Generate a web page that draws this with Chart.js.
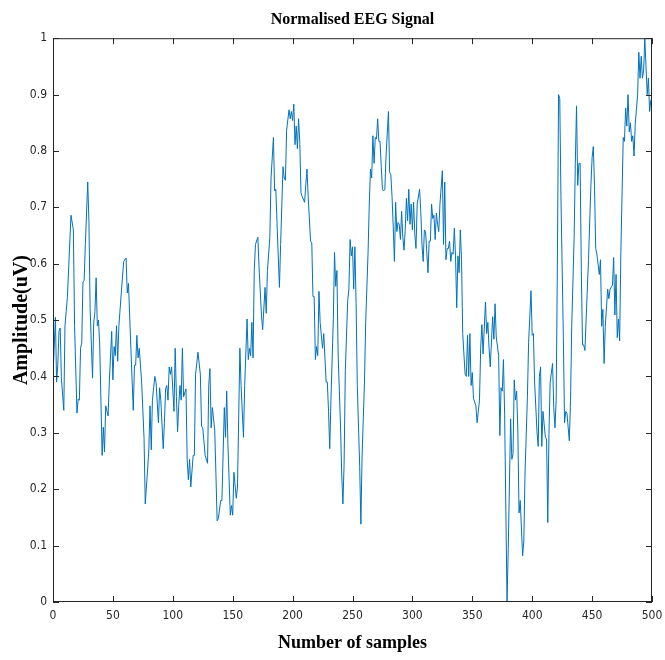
<!DOCTYPE html>
<html>
<head>
<meta charset="utf-8">
<script src="https://cdn.jsdelivr.net/npm/chart.js@4.4.1/dist/chart.umd.min.js"></script>
<style>
  html,body{margin:0;padding:0;background:#fff;}
  canvas{display:block;}
</style>
</head>
<body>
<canvas id="eegChart" width="665" height="660"></canvas>
<script>
// sample index (x) and normalised amplitude (y)
const sampleIdx = [
  0,2,3,4,5,6,7,9,10,11,12,15,17,18,20,21,22,23,24,25,26,27,29,30,31,33,34,35,36,37,38,39,41,42,43,44,46,47,49,
  50,51,52,53,54,55,57,59,61,62,63,65,67,68,69,70,71,72,74,76,77,79,80,81,82,83,84,85,86,88,89,90,92,93,94,95,96,97,98,99,
  101,102,103,104,105,106,107,108,109,111,112,113,114,115,117,118,119,121,123,124,125,127,129,130,131,132,133,135,136,137,138,140,141,143,144,145,146,148,149,
  150,151,153,154,156,157,159,160,162,163,164,165,166,167,168,169,171,172,174,175,177,178,179,181,182,184,185,186,187,189,190,192,193,194,195,197,198,199,
  200,201,202,203,204,205,206,207,208,210,211,212,213,215,216,217,218,219,220,221,222,223,225,226,228,229,230,231,232,234,235,236,237,238,240,241,242,243,244,246,247,248,249,
  250,251,252,253,254,256,257,258,260,261,263,264,265,266,267,268,269,270,271,272,273,274,275,276,277,278,280,281,282,283,284,285,286,287,288,289,290,291,292,293,294,295,296,297,298,299,
  300,301,302,303,304,306,307,308,309,310,311,313,314,315,316,317,318,319,320,321,322,323,325,326,327,328,329,330,331,332,333,334,335,336,337,338,339,340,341,342,344,345,346,347,348,349,
  350,351,353,354,356,357,358,359,361,362,363,364,365,367,368,369,370,372,373,374,375,376,377,378,379,380,382,383,384,385,386,387,388,389,390,392,393,394,396,397,399,
  400,401,402,404,405,406,407,408,409,411,412,413,414,415,417,418,419,420,421,422,423,424,426,427,428,429,431,432,433,435,436,437,438,439,440,441,442,443,444,446,447,449,
  450,451,452,453,454,456,457,458,459,460,461,463,464,465,467,468,469,470,471,472,473,474,476,477,478,479,480,481,482,483,484,485,486,488,489,490,491,492,493,494,496,497,498,499,500
];
const amplitude = [
  0.40,0.505,0.39,0.42,0.48,0.486,0.397,0.34,0.49,0.515,0.54,0.686,0.66,0.49,0.335,0.36,0.358,0.45,0.46,0.568,0.57,0.634,0.745,0.673,0.52,0.397,0.496,0.515,0.575,0.49,0.50,0.456,0.26,0.31,0.266,0.348,0.33,0.39,0.48,
  0.394,0.453,0.437,0.49,0.427,0.49,0.548,0.604,0.61,0.548,0.565,0.45,0.34,0.42,0.42,0.473,0.433,0.45,0.39,0.29,0.174,0.236,0.27,0.348,0.27,0.358,0.38,0.40,0.39,0.318,0.38,0.358,0.272,0.318,0.378,0.384,0.358,0.417,0.404,0.417,
  0.338,0.45,0.364,0.302,0.351,0.384,0.358,0.45,0.364,0.378,0.253,0.217,0.253,0.204,0.26,0.26,0.404,0.443,0.404,0.312,0.309,0.26,0.246,0.384,0.414,0.309,0.345,0.305,0.227,0.144,0.148,0.18,0.18,0.345,0.292,0.374,0.279,0.154,0.171,
  0.154,0.23,0.184,0.204,0.45,0.384,0.292,0.384,0.502,0.43,0.45,0.437,0.496,0.433,0.588,0.634,0.647,0.594,0.509,0.483,0.558,0.512,0.588,0.647,0.752,0.824,0.729,0.732,0.673,0.558,0.634,0.772,0.752,0.748,0.837,0.873,0.857,0.87,
  0.854,0.883,0.811,0.844,0.804,0.857,0.815,0.726,0.719,0.709,0.739,0.768,0.719,0.64,0.637,0.542,0.542,0.43,0.453,0.437,0.551,0.496,0.45,0.476,0.39,0.39,0.338,0.272,0.358,0.502,0.62,0.56,0.588,0.44,0.312,0.227,0.174,0.246,0.41,0.535,0.555,0.643,0.614,
  0.63,0.555,0.63,0.529,0.384,0.24,0.138,0.259,0.39,0.496,0.62,0.706,0.768,0.752,0.827,0.778,0.824,0.821,0.857,0.817,0.817,0.772,0.732,0.729,0.732,0.791,0.87,0.762,0.758,0.719,0.666,0.604,0.709,0.657,0.673,0.67,0.643,0.693,0.647,0.624,0.66,0.716,0.676,0.732,0.67,0.706,
  0.66,0.709,0.653,0.627,0.706,0.732,0.693,0.634,0.604,0.66,0.657,0.584,0.64,0.64,0.706,0.68,0.686,0.643,0.69,0.67,0.657,0.706,0.765,0.634,0.745,0.607,0.627,0.627,0.64,0.604,0.62,0.617,0.663,0.614,0.522,0.614,0.584,0.66,0.607,0.476,0.404,0.40,0.473,0.40,0.476,0.384,
  0.407,0.361,0.348,0.318,0.358,0.45,0.492,0.44,0.532,0.476,0.496,0.45,0.417,0.506,0.466,0.529,0.47,0.437,0.295,0.38,0.374,0.43,0.332,0.161,0.0,0.095,0.325,0.253,0.263,0.394,0.358,0.374,0.305,0.158,0.18,0.082,0.108,0.227,0.364,0.46,0.552,
  0.473,0.476,0.39,0.302,0.276,0.40,0.417,0.276,0.338,0.292,0.289,0.141,0.30,0.39,0.423,0.345,0.309,0.358,0.594,0.90,0.893,0.719,0.469,0.318,0.338,0.335,0.286,0.358,0.489,0.647,0.778,0.88,0.739,0.778,0.778,0.588,0.456,0.456,0.446,0.555,0.607,0.739,
  0.788,0.808,0.739,0.627,0.617,0.581,0.607,0.489,0.519,0.423,0.489,0.555,0.538,0.555,0.562,0.611,0.509,0.581,0.469,0.502,0.463,0.62,0.824,0.817,0.876,0.844,0.90,0.834,0.85,0.817,0.827,0.791,0.847,0.90,0.975,0.929,0.968,0.929,0.942,1.0,0.90,0.929,0.87,0.89,0.89
];
const xTicks = [0,50,100,150,200,250,300,350,400,450,500];
const yTicks = [0,0.1,0.2,0.3,0.4,0.5,0.6,0.7,0.8,0.9,1];
const yTickLabels = ["0","0.1","0.2","0.3","0.4","0.5","0.6","0.7","0.8","0.9","1"];

const AXIS = "#262626";
const LINE = "#0072BD";
const tickFont = {family:"'Liberation Sans Narrow','Arial Narrow','DejaVu Sans Condensed',sans-serif", size:12};
const serifBold = size => ({family:"'Liberation Serif','Times New Roman',serif", size, weight:"bold"});

// matlab-style box: frame on all four sides with inward ticks
const boxPlugin = {
  id:"box",
  afterDraw(chart){
    const {ctx, chartArea:a, scales:{x, y}} = chart;
    const L = 6;
    ctx.save();
    ctx.strokeStyle = AXIS; ctx.lineWidth = 1;
    ctx.strokeRect(a.left + .5, a.top + .5, a.right - a.left - 1, a.bottom - a.top - 1);
    ctx.beginPath();
    xTicks.forEach(v => {
      const px = Math.round(x.getPixelForValue(v)) + .5;
      ctx.moveTo(px, a.bottom); ctx.lineTo(px, a.bottom - L);
      ctx.moveTo(px, a.top); ctx.lineTo(px, a.top + L);
    });
    yTicks.forEach(v => {
      const py = Math.round(y.getPixelForValue(v)) + .5;
      ctx.moveTo(a.left, py); ctx.lineTo(a.left + L, py);
      ctx.moveTo(a.right, py); ctx.lineTo(a.right - L, py);
    });
    ctx.stroke();
    ctx.restore();
  }
};

new Chart(document.getElementById("eegChart"), {
  type:"line",
  data:{datasets:[{
    label:"EEG",
    data:sampleIdx.map((s,i) => ({x:s, y:amplitude[i]})),
    borderColor:LINE, borderWidth:1, pointRadius:0, tension:0, fill:false
  }]},
  options:{
    responsive:false, animation:false, parsing:false,
    layout:{padding:0},
    plugins:{
      legend:{display:false}, tooltip:{enabled:false},
      title:{display:true, text:"Normalised EEG Signal", fullSize:false, color:"#000", font:serifBold(16), padding:{top:10,bottom:9}}
    },
    scales:{
      x:{
        type:"linear", min:0, max:500,
        afterBuildTicks:s => { s.ticks = xTicks.map(v => ({value:v})); },
        afterFit:s => { s.height = 58; s.paddingLeft = 0; s.paddingRight = 13; },
        grid:{display:false, drawTicks:false},
        border:{display:false},
        ticks:{color:AXIS, font:tickFont, padding:7, maxRotation:0, autoSkip:false},
        title:{display:true, text:"Number of samples", color:"#000", font:serifBold(18), padding:{top:0,bottom:6}}
      },
      y:{
        type:"linear", min:0, max:1,
        afterBuildTicks:s => { s.ticks = yTicks.map(v => ({value:v})); },
        afterFit:s => { s.width = 53; },
        grid:{display:false, drawTicks:false},
        border:{display:false},
        ticks:{color:AXIS, font:tickFont, padding:6, autoSkip:false,
          callback:(v) => { const i = yTicks.findIndex(t => Math.abs(t - v) < 1e-9); return i >= 0 ? yTickLabels[i] : ""; }},
        title:{display:true, text:"Amplitude(uV)", color:"#000", font:serifBold(20), padding:{top:10,bottom:0}}
      }
    }
  },
  plugins:[boxPlugin]
});
</script>
</body>
</html>
